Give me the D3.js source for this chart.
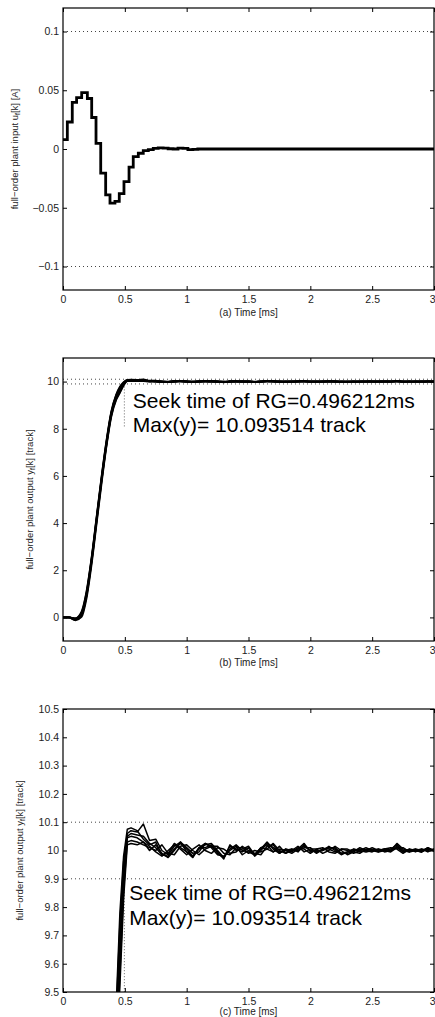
<!DOCTYPE html>
<html>
<head>
<meta charset="utf-8">
<script src="https://cdn.jsdelivr.net/npm/d3@7"></script>
<style>
  body { margin: 0; background: #fff; }
  svg { display: block; font-family: "Liberation Sans", Arial, Helvetica, sans-serif; }
</style>
</head>
<body>
<svg id="fig" width="435" height="1017"></svg>
<script>
// ---- data ----
var xTicks = [0, 0.5, 1, 1.5, 2, 2.5, 3],
    xTickLabels = ["0", "0.5", "1", "1.5", "2", "2.5", "3"];

var yTicksA = [-0.1, -0.05, 0, 0.05, 0.1],
    yLabelsA = ["\u22120.1", "\u22120.05", "0", "0.05", "0.1"];
var yTicksB = [0, 2, 4, 6, 8, 10],
    yLabelsB = ["0", "2", "4", "6", "8", "10"];
var yTicksC = [9.5, 9.6, 9.7, 9.8, 9.9, 10, 10.1, 10.2, 10.3, 10.4, 10.5],
    yLabelsC = ["9.5", "9.6", "9.7", "9.8", "9.9", "10", "10.1", "10.2", "10.3", "10.4", "10.5"];

// (a) plant input, zero-order hold
var uTime = [0, 0.035, 0.075, 0.11, 0.151, 0.197, 0.232, 0.267, 0.305, 0.345, 0.38, 0.42, 0.455,
             0.493, 0.534, 0.568, 0.609, 0.649, 0.69, 0.73, 0.77, 0.81, 0.85, 0.89, 0.93, 0.97,
             1.01, 1.05, 1.09, 3.0];
var uValue = [0.008, 0.023, 0.0396, 0.0438, 0.048, 0.043, 0.0268, 0.0048, -0.0206, -0.039, -0.046,
              -0.0446, -0.038, -0.0277, -0.0155, -0.0065, -0.0036, -0.0014, -0.0005, 0.0005, 0.001,
              0.0008, 0.0002, 0, 0.0008, 0.0006, -0.0005, -0.0004, 0, 0];

// (b),(c) plant output, several runs
var tRun = [0, 0.05, 0.1, 0.15, 0.19, 0.23, 0.27, 0.31, 0.35, 0.39, 0.43, 0.46, 0.49, 0.52, 0.55,
            0.6, 0.65, 0.7, 0.75, 0.8, 0.85, 0.9, 0.95, 1.0,
            1.05, 1.1, 1.15, 1.2, 1.25, 1.3, 1.35, 1.4, 1.45, 1.5,
            1.55, 1.6, 1.65, 1.7, 1.75, 1.8, 1.85, 1.9, 1.95, 2.0,
            2.05, 2.1, 2.15, 2.2, 2.25, 2.3, 2.35, 2.4, 2.45, 2.5,
            2.55, 2.6, 2.65, 2.7, 2.75, 2.8, 2.85, 2.9, 2.95, 3.0];

var runA = [0, 0, -0.03, 0.25, 1.1, 2.5, 4.2, 5.9, 7.45, 8.72, 9.45, 9.78, 9.98, 10.075, 10.08,
            10.07, 10.04, 10.02, 10.03, 9.985, 9.98, 10.005, 10.025, 10.005,
            9.98, 10.005, 10.02, 10.025, 10.0, 9.975, 10.015, 10.005, 9.995, 10.01,
            9.98, 10.0, 10.025, 10.01, 9.995, 10.0, 10.005, 9.995, 10.02, 10.0,
            9.995, 10.005, 10.01, 10.005, 9.99, 9.99, 10.0, 10.005, 10.0, 9.995,
            10.005, 10.0, 10.005, 10.02, 10.0, 9.995, 10.005, 10.0, 10.008, 10.0];
var runB = [0, 0, -0.05, 0.2, 1.05, 2.45, 4.15, 5.85, 7.4, 8.68, 9.42, 9.74, 9.96, 10.06, 10.07,
            10.065, 10.0935, 10.035, 10.04, 10.0, 9.985, 10.015, 10.03, 9.995,
            9.975, 10.01, 10.025, 10.015, 9.995, 9.97, 10.02, 10.0, 10.005, 10.015,
            9.985, 10.005, 10.03, 10.005, 9.99, 10.005, 10.0, 10.005, 10.025, 9.995,
            10.0, 10.0, 10.015, 10.0, 9.985, 9.995, 10.005, 10.0, 9.995, 10.0,
            10.0, 10.005, 10.0, 10.025, 10.005, 10.0, 10.0, 9.995, 10.01, 9.997];
var runC = [0, 0, -0.08, 0.12, 0.95, 2.35, 4.05, 5.75, 7.3, 8.6, 9.32, 9.62, 9.9, 10.045, 10.05,
            10.045, 10.03, 10.0, 10.02, 9.99, 9.975, 10.0, 10.03, 10.01,
            9.99, 9.995, 10.025, 10.01, 9.985, 9.98, 10.0, 10.015, 9.985, 10.0,
            9.99, 9.985, 10.015, 10.02, 9.99, 10.005, 9.995, 10.01, 10.005, 9.99,
            10.005, 9.99, 10.0, 10.015, 10.0, 9.985, 9.995, 10.01, 10.0, 10.005,
            9.995, 10.005, 10.01, 10.005, 9.99, 10.005, 10.0, 9.995, 10.01, 10.0];
var runD = [0, 0, -0.1, 0.08, 0.9, 2.3, 4.0, 5.7, 7.25, 8.55, 9.26, 9.56, 9.86, 10.03, 10.035,
            10.03, 10.02, 10.01, 10.0, 10.02, 9.99, 9.985, 10.015, 10.02,
            10.0, 9.985, 10.005, 10.015, 10.015, 9.99, 9.985, 10.01, 10.01, 9.99,
            10.0, 9.995, 10.005, 10.025, 10.0, 9.99, 10.005, 10.0, 10.01, 10.01,
            9.99, 10.005, 10.005, 9.995, 10.005, 10.0, 9.99, 10.0, 10.01, 10.0,
            9.995, 10.0, 9.995, 10.01, 10.01, 9.995, 10.0, 10.005, 10.0, 10.005];
var runE = [0, -0.01, -0.12, 0.02, 0.8, 2.2, 3.9, 5.6, 7.2, 8.5, 9.22, 9.52, 9.83, 10.02, 10.025,
            10.02, 10.03, 10.015, 9.995, 9.98, 10.0, 10.02, 10.005, 9.985,
            10.005, 10.02, 10.0, 9.99, 10.01, 10.005, 9.99, 9.995, 10.015, 10.0,
            9.985, 10.01, 10.005, 9.995, 10.015, 9.99, 10.0, 10.015, 9.995, 10.005,
            10.005, 10.01, 9.995, 9.99, 10.005, 10.005, 9.995, 9.99, 10.005, 10.0,
            10.005, 9.995, 10.0, 10.01, 9.995, 10.005, 9.995, 10.005, 9.995, 10.005];
var runF = [0, 0, -0.06, 0.15, 0.98, 2.4, 4.1, 5.8, 7.35, 8.64, 9.38, 9.68, 9.93, 10.05, 10.06,
            10.055, 10.05, 10.025, 10.01, 9.985, 9.99, 10.025, 10.01, 9.995,
            9.98, 10.01, 10.01, 10.02, 9.99, 9.975, 10.005, 10.02, 10.0, 9.995,
            9.985, 10.01, 10.02, 9.995, 10.005, 10.0, 9.99, 10.005, 10.015, 10.0,
            9.995, 10.0, 10.01, 10.01, 9.99, 9.995, 10.005, 9.995, 10.0, 10.01,
            10.0, 10.005, 10.0, 10.015, 9.995, 10.0, 10.005, 9.995, 10.005, 10.0];
var runs = [runA, runB, runC, runD, runE, runF];

var seekTime = 0.496212, seekLine = [8.1, 9.9];
var note1 = "Seek time of RG=0.496212ms",
    note2 = "Max(y)= 10.093514 track";

// ---- layout ----
var svg = d3.select("#fig"),
    left = 63, right = 434;

var x = d3.scaleLinear().domain([0, 3]).range([left, right]);

var panels = [
  {top: 8, bottom: 290, domain: [-0.12, 0.12], ticks: yTicksA, labels: yLabelsA,
   xlab: "(a) Time [ms]", xlabDy: 26, ylab: ["full\u2212order plant input u", "f", "[k] [A]"], ylabX: 18,
   guides: [0.1, -0.1]},
  {top: 358, bottom: 641, domain: [-1, 11], ticks: yTicksB, labels: yLabelsB,
   xlab: "(b)  Time [ms]", xlabDy: 25, ylab: ["full\u2212order plant output y", "f", "[k] [track]"], ylabX: 33,
   guides: [10.1, 9.9], note: [0.565, 8.9], curve: d3.curveMonotoneX},
  {top: 709, bottom: 992, domain: [9.5, 10.5], ticks: yTicksC, labels: yLabelsC,
   xlab: "(c) Time [ms]", xlabDy: 22.5, ylab: ["full\u2212order plant output y", "f", "[k] [track]"], ylabX: 23,
   guides: [10.1, 9.9], note: [0.535, 9.825], curve: d3.curveLinear}
];

panels.forEach(function(p, k) {
  var y = d3.scaleLinear().domain(p.domain).range([p.bottom, p.top]);
  var g = svg.append("g");

  g.append("defs").append("clipPath").attr("id", "clip" + k)
    .append("rect")
      .attr("x", left).attr("y", p.top)
      .attr("width", right - left).attr("height", p.bottom - p.top);

  // dotted reference lines
  p.guides.forEach(function(v) {
    g.append("line")
        .attr("x1", left).attr("x2", right)
        .attr("y1", y(v)).attr("y2", y(v))
        .attr("stroke", "#444").attr("stroke-width", 1)
        .attr("stroke-dasharray", "1,3");
  });

  var plot = g.append("g").attr("clip-path", "url(#clip" + k + ")");

  if (k == 0) {
    var line = d3.line()
        .curve(d3.curveStepAfter)
        .x(function(d, i) { return x(uTime[i]); })
        .y(function(d) { return y(d); });
    plot.append("path")
        .datum(uValue)
        .attr("d", line)
        .attr("fill", "none")
        .attr("stroke", "#000")
        .attr("stroke-width", 2.8);
  } else {
    plot.append("line")
        .attr("x1", x(seekTime)).attr("x2", x(seekTime))
        .attr("y1", y(seekLine[0])).attr("y2", y(seekLine[1]))
        .attr("stroke", "#666").attr("stroke-width", 1)
        .attr("stroke-dasharray", "1,2");
    var line = d3.line()
        .curve(p.curve)
        .x(function(d, i) { return x(tRun[i]); })
        .y(function(d) { return y(d); });
    plot.selectAll(".run")
        .data(runs)
      .enter().append("path")
        .attr("class", "run")
        .attr("d", line)
        .attr("fill", "none")
        .attr("stroke", "#000")
        .attr("stroke-width", k == 1 ? 1.8 : 1.5)
        .attr("stroke-linejoin", "round");

    var t = g.append("text")
        .attr("x", x(p.note[0]))
        .attr("y", y(p.note[1]))
        .attr("font-size", 21)
        .attr("fill", "#000");
    t.append("tspan").text(note1);
    t.append("tspan").attr("x", x(p.note[0])).attr("dy", 24.5).text(note2);
  }

  // axes, MATLAB style: inward ticks on all four sides
  var bottomAxis = g.append("g")
      .attr("transform", "translate(0," + p.bottom + ")")
      .call(d3.axisBottom(x).tickValues(xTicks)
        .tickFormat(function(d, i) { return xTickLabels[i]; })
        .tickSize(-4).tickPadding(6));
  var topAxis = g.append("g")
      .attr("transform", "translate(0," + p.top + ")")
      .call(d3.axisTop(x).tickValues(xTicks).tickFormat("").tickSize(-4));
  var leftAxis = g.append("g")
      .attr("transform", "translate(" + left + ",0)")
      .call(d3.axisLeft(y).tickValues(p.ticks)
        .tickFormat(function(d, i) { return p.labels[i]; })
        .tickSize(-4).tickPadding(4));
  var rightAxis = g.append("g")
      .attr("transform", "translate(" + right + ",0)")
      .call(d3.axisRight(y).tickValues(p.ticks).tickFormat("").tickSize(-4));

  [bottomAxis, topAxis, leftAxis, rightAxis].forEach(function(a) {
    a.select(".domain").remove();
    a.attr("font-family", null).attr("font-size", 10.5);
    a.selectAll("line").attr("stroke", "#000");
    a.selectAll("text").attr("fill", "#222");
  });
  // last x label sits on the right edge of the window
  bottomAxis.selectAll(".tick text")
      .filter(function(d) { return d == 3; })
      .attr("text-anchor", "end")
      .attr("x", 1);

  g.append("rect")
      .attr("x", left).attr("y", p.top)
      .attr("width", right - left).attr("height", p.bottom - p.top)
      .attr("fill", "none").attr("stroke", "#000").attr("stroke-width", 1.2);

  g.append("text")
      .attr("x", (left + right) / 2)
      .attr("y", p.bottom + p.xlabDy)
      .attr("text-anchor", "middle")
      .attr("font-size", 10)
      .attr("fill", "#222")
      .text(p.xlab);

  var yl = g.append("text")
      .attr("transform", "translate(" + p.ylabX + "," + (p.top + p.bottom) / 2 + ") rotate(-90)")
      .attr("text-anchor", "middle")
      .attr("font-size", 9.5)
      .attr("fill", "#222");
  yl.append("tspan").text(p.ylab[0]);
  yl.append("tspan").attr("font-size", 7).attr("dy", 2).text(p.ylab[1]);
  yl.append("tspan").attr("dy", -2).text(p.ylab[2]);
});
</script>
</body>
</html>
